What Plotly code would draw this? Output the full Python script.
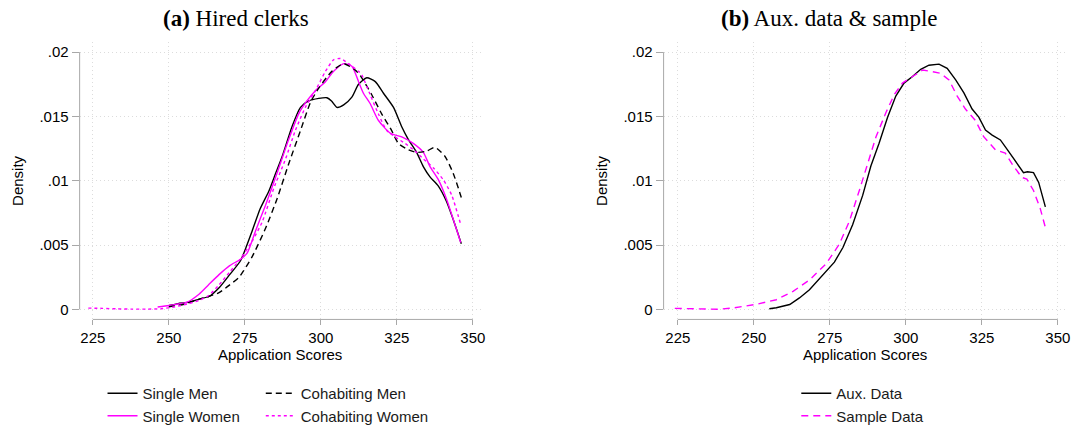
import plotly.graph_objects as go

# ---- Panel (a): hired clerks, kernel densities of application scores ----
single_men_x = [250.1, 253, 256.7, 260, 263.2, 266.6, 270, 273.6, 277.4, 280, 282.9, 285, 287.3,
                290.5, 293.3, 296, 299.3, 302, 303.5, 305.3, 307.5, 310.2, 312.4, 315.1, 317.9,
                320.6, 323.9, 326.6, 328.8, 331.5, 333.7, 335.9, 338.6, 341.3, 344.1, 346.2]
single_men_y = [0.0003, 0.00045, 0.00056, 0.0008, 0.001, 0.0017, 0.0027, 0.0038, 0.0061, 0.0078,
                0.0092, 0.0105, 0.0119, 0.0142, 0.0157, 0.0162, 0.0164, 0.01645, 0.0162, 0.0157,
                0.0159, 0.0165, 0.0175, 0.0180, 0.0177, 0.0168, 0.0157, 0.0142, 0.0132, 0.0122,
                0.0111, 0.0103, 0.0096, 0.0084, 0.0066, 0.0051]

single_women_x = [246.3, 250, 253, 256, 260, 263, 266.5, 270, 273.6, 275.8, 278.5, 281.8, 285.6,
                  289.4, 292.7, 295.4, 298.2, 301.5, 304.2, 307.5, 310.2, 312.4, 314, 316.2, 318.9,
                  322.8, 326.6, 330.4, 333.7, 335.9, 338.6, 341.3, 344.1, 346]
single_women_y = [0.00018, 0.0003, 0.00042, 0.00056, 0.0012, 0.0019, 0.0027, 0.0034, 0.0039,
                  0.0044, 0.0061, 0.0081, 0.0106, 0.0132, 0.0152, 0.0162, 0.0170, 0.0177, 0.0185,
                  0.0191, 0.0189, 0.0177, 0.0168, 0.0160, 0.0147, 0.0137, 0.0134, 0.0129, 0.0122,
                  0.0111, 0.0101, 0.0086, 0.0066, 0.0052]

cohab_men_x = [250, 255, 260, 263, 266.5, 270, 273.1, 277.4, 281.8, 285.6, 289.4, 293.3, 296.6,
               299.3, 303.6, 307.5, 311.3, 312.9, 316.7, 320, 323.3, 325.5, 328.8, 331.5, 334.8,
               337.5, 340.8, 343.5, 346.2]
cohab_men_y = [0.0002, 0.0004, 0.0008, 0.001, 0.0013, 0.0019, 0.0025, 0.0041, 0.0063, 0.0086,
               0.0113, 0.0139, 0.0161, 0.0172, 0.0185, 0.0191, 0.0186, 0.0182, 0.0167, 0.0152,
               0.0139, 0.0129, 0.0124, 0.0122, 0.0123, 0.0126, 0.0119, 0.0106, 0.0087]

cohab_women_x = [223.5, 228, 233, 238, 243, 247.5, 252, 256.7, 260, 263.2, 266.5, 270, 273.1, 277.4,
                 280.7, 284.5, 288.4, 291.6, 294.9, 298.2, 301.5, 304.2, 306.4, 309.1, 312.4, 313.5,
                 316.2, 318.9, 321.7, 324.4, 327.7, 331, 333.7, 337, 340.2, 343, 346]
cohab_women_y = [0.0001, 0.00008, 0.00004, 0.00002, 0.00002, 0.00005, 0.0002, 0.00046, 0.0007,
                 0.0011, 0.0019, 0.0029, 0.0038, 0.0053, 0.0068, 0.0094, 0.0117, 0.0139, 0.0157,
                 0.0170, 0.0185, 0.0194, 0.0195, 0.0191, 0.0185, 0.0182, 0.0167, 0.0152, 0.0139,
                 0.0134, 0.0129, 0.0123, 0.0117, 0.0110, 0.0101, 0.0089, 0.0066]

# ---- Panel (b): auxiliary data vs. sample ----
aux_x = [255.1, 257.4, 261.8, 265, 268.3, 272.2, 276.5, 279.3, 282.5, 285.8, 288.5, 291.2, 294,
         296.7, 299.4, 302.2, 304.9, 307.6, 310.9, 313.6, 316.4, 319.1, 321.8, 324, 326.2, 328.4,
         331.1, 333.8, 336.6, 338.7, 340, 342, 343.7, 345.9]
aux_y = [0.00005, 0.00013, 0.00038, 0.00089, 0.00152, 0.00254, 0.00367, 0.00481, 0.00658, 0.00886,
         0.01114, 0.01291, 0.01494, 0.01658, 0.01759, 0.0181, 0.01866, 0.01898, 0.01906, 0.01873,
         0.01784, 0.01683, 0.01557, 0.01494, 0.01393, 0.01355, 0.01317, 0.01228, 0.01139, 0.01063,
         0.0107, 0.01063, 0.00987, 0.00797]

sample_x = [224, 228, 233, 238, 243, 246, 251, 257.4, 262.9, 268.3, 273.8, 278.1, 281.4, 284.7,
            287.5, 290.2, 293.5, 296.2, 298.9, 302.2, 305.5, 308.7, 311.4, 314.2, 316.9, 319.6,
            322.9, 325.6, 329.5, 332.7, 335.4, 338.2, 339.8, 342, 344.2, 346.1]
sample_y = [0.00008, 0.00005, 0.00002, 0.00001, 0.0001, 0.0002, 0.0004, 0.00075, 0.0014, 0.00228,
            0.00355, 0.00506, 0.00683, 0.00924, 0.01139, 0.01342, 0.01532, 0.0167, 0.01759, 0.0181,
            0.0186, 0.01848, 0.01835, 0.01784, 0.01658, 0.01557, 0.01468, 0.01342, 0.0124, 0.01215,
            0.01114, 0.01025, 0.01013, 0.00924, 0.00785, 0.0062]

x_ticks = [225, 250, 275, 300, 325, 350]
y_ticks = [0, 0.005, 0.01, 0.015, 0.02]
y_tick_text = ["0", ".005", ".01", ".015", ".02"]

W, H = 1078, 432
MAG = "#FF00FF"
SANS = "Liberation Sans, Arial, sans-serif"
SERIF = "Liberation Serif, Times New Roman, serif"
AXIS_GREY = "#a8a8a8"
GRID = "#dcdcdc"


def px(v):
    return v / W


def py(v):
    return 1 - v / H


fig = go.Figure()

left = [
    ("Single Men", single_men_x, single_men_y, "black", "solid", "legend"),
    ("Single Women", single_women_x, single_women_y, MAG, "solid", "legend"),
    ("Cohabiting Men", cohab_men_x, cohab_men_y, "black", "6px,4px", "legend2"),
    ("Cohabiting Women", cohab_women_x, cohab_women_y, MAG, "3px,3px", "legend2"),
]
for name, xs, ys, col, dash, leg in left:
    fig.add_trace(go.Scatter(x=xs, y=ys, mode="lines", name=name, legend=leg,
                             line=dict(color=col, width=1.4, dash=dash, shape="spline", smoothing=0.6),
                             xaxis="x", yaxis="y"))

right = [
    ("Aux. Data", aux_x, aux_y, "black", "solid"),
    ("Sample Data", sample_x, sample_y, MAG, "7px,5px"),
]
for name, xs, ys, col, dash in right:
    fig.add_trace(go.Scatter(x=xs, y=ys, mode="lines", name=name, legend="legend3",
                             line=dict(color=col, width=1.4, dash=dash),
                             xaxis="x2", yaxis="y2"))

y_dom = [py(327), py(43)]
y_rng = [-0.000782, 0.020782]

common_x = dict(tickvals=x_ticks, ticks="outside", ticklen=5, tickcolor=AXIS_GREY, tickwidth=1,
                showgrid=True, gridcolor=GRID, griddash="1px,3px", gridwidth=1,
                showline=False, zeroline=False, fixedrange=True,
                tickfont=dict(family=SANS, size=15, color="black"))
common_y = dict(tickvals=y_ticks, ticktext=y_tick_text, ticks="outside", ticklen=7,
                tickcolor=AXIS_GREY, tickwidth=1, range=y_rng, domain=y_dom,
                showgrid=True, gridcolor=GRID, griddash="1px,3px", gridwidth=1,
                showline=False, zeroline=False, fixedrange=True,
                tickfont=dict(family=SANS, size=15, color="black"))

fig.update_layout(
    width=W, height=H,
    margin=dict(l=0, r=0, t=0, b=0),
    paper_bgcolor="white", plot_bgcolor="white",
    xaxis=dict(domain=[px(80), px(483)], range=[220.64, 352.6], anchor="y", **common_x),
    yaxis=dict(anchor="x", **common_y),
    xaxis2=dict(domain=[px(666.7), px(1070.7)], range=[220.32, 352.6], anchor="y2", **common_x),
    yaxis2=dict(anchor="x2", **common_y),
    font=dict(family=SANS, size=15, color="black"),
)

leg_common = dict(orientation="v", xanchor="left", yanchor="top", bgcolor="rgba(0,0,0,0)",
                  font=dict(family=SANS, size=15, color="#1a1a1a"), tracegroupgap=0,
                  itemwidth=30, borderwidth=0)
fig.update_layout(
    legend=dict(x=px(103), y=py(386), **leg_common),
    legend2=dict(x=px(262), y=py(386), **leg_common),
    legend3=dict(x=px(800), y=py(386), **leg_common),
)

# Stata-style axis lines spanning only the labelled tick range
for xa, ya, x0px in (("x", "y", 80), ("x2", "y2", 666.7)):
    fig.add_shape(type="line", xref=xa, yref="paper", x0=225, x1=350, y0=py(327), y1=py(327),
                  line=dict(color=AXIS_GREY, width=1))
    fig.add_shape(type="line", xref="paper", yref=ya, x0=px(x0px), x1=px(x0px), y0=0, y1=0.02,
                  line=dict(color=AXIS_GREY, width=1))

# Panel titles and axis titles
annots = [
    dict(text="<b>(a)</b> Hired clerks", x=px(236.7), y=py(19), font=dict(family=SERIF, size=23)),
    dict(text="<b>(b)</b> Aux. data &amp; sample", x=px(833), y=py(19), font=dict(family=SERIF, size=23)),
    dict(text="Application Scores", x=px(281), y=py(363), font=dict(family=SANS, size=15)),
    dict(text="Application Scores", x=px(869), y=py(363), font=dict(family=SANS, size=15)),
    dict(text="Density", x=px(18.3), y=py(185), textangle=-90, font=dict(family=SANS, size=15)),
    dict(text="Density", x=px(605), y=py(185), textangle=-90, font=dict(family=SANS, size=15)),
]
for a in annots:
    fig.add_annotation(xref="paper", yref="paper", xanchor="center", yanchor="middle",
                       showarrow=False, **a)

fig.write_html("out.html")
